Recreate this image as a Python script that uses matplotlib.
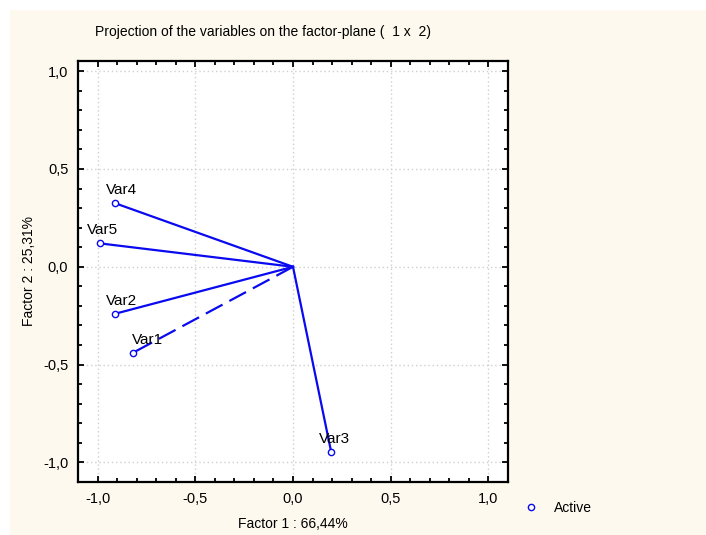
import matplotlib
matplotlib.use("Agg")
import matplotlib.pyplot as plt
from matplotlib.ticker import MultipleLocator, FuncFormatter
from matplotlib.patches import Rectangle

plt.rcParams['font.family'] = ['Liberation Sans', 'DejaVu Sans']

# factor coordinates of the variables
names = ["Var1", "Var2", "Var3", "Var4", "Var5"]
fac1 = [-0.82, -0.91, 0.195, -0.91, -0.99]
fac2 = [-0.44, -0.24, -0.945, 0.325, 0.12]
# label offsets in pixels (text centre relative to point)
lab_dx = [15, 6, 3, 6, 3]
lab_dy = [13, 13, 13, 13, 13]

blue = "#0a0af0"
beige = "#fdf9ee"

fig = plt.figure(figsize=(7.06, 5.35), dpi=100, facecolor="white")
fig.patches.append(Rectangle((10 / 706, 0), 1, 1 - 10 / 535, transform=fig.transFigure,
                             facecolor=beige, edgecolor="none", zorder=-10))

ax = fig.add_axes([78 / 706, 1 - 482 / 535, 430 / 706, 421 / 535])
ax.set_facecolor("white")

for i, n in enumerate(names):
    ls = "--" if n == "Var1" else "-"
    line, = ax.plot([0, fac1[i]], [0, fac2[i]], color=blue, lw=1.6, ls=ls, zorder=3)
    if ls == "--":
        line.set_dashes((8.5, 3.5))
    ax.plot(fac1[i], fac2[i], "o", ms=4.5, mfc="white", mec=blue, mew=1.0, zorder=4)
    ax.annotate(n, (fac1[i], fac2[i]), xytext=(lab_dx[i] * 0.72, lab_dy[i] * 0.72),
                textcoords="offset points", ha="center", va="center", fontsize=11, color="black")

ax.set_xlim(-1.1, 1.1)
ax.set_ylim(-1.1, 1.052)

ax.xaxis.set_major_locator(MultipleLocator(0.5))
ax.yaxis.set_major_locator(MultipleLocator(0.5))
ax.xaxis.set_minor_locator(MultipleLocator(0.1))
ax.yaxis.set_minor_locator(MultipleLocator(0.1))
fmt = FuncFormatter(lambda v, p: ("%.1f" % v).replace(".", ",").replace("-0,0", "0,0"))
ax.xaxis.set_major_formatter(fmt)
ax.yaxis.set_major_formatter(fmt)
ax.tick_params(which="both", direction="in", top=True, right=True, labelsize=10.5, width=1.3, color="black")
ax.tick_params(which="major", length=4, pad=7)
ax.tick_params(which="minor", length=3)
for s in ax.spines.values():
    s.set_linewidth(1.6)

ax.grid(True, which="major", ls=(0, (1, 2)), color="#cfcfcf", lw=1.0, zorder=0)
ax.set_axisbelow(True)

ax.set_xlabel("Factor 1 : 66,44%", fontsize=10, labelpad=8)
ax.set_ylabel("Factor 2 : 25,31%", fontsize=10, labelpad=5)
fig.text(95 / 706, 1 - 32 / 535, "Projection of the variables on the factor-plane (  1 x  2)",
         fontsize=10, ha="left", va="center")

h, = ax.plot([], [], "o", ms=4.5, mfc="white", mec=blue, mew=1.0, ls="none")
fig.legend([h], ["Active"], loc="center left", bbox_to_anchor=(505 / 706, 1 - 508 / 535),
           frameon=False, fontsize=10, handletextpad=0.6)

fig.savefig("out.png", dpi=100, facecolor="white")
